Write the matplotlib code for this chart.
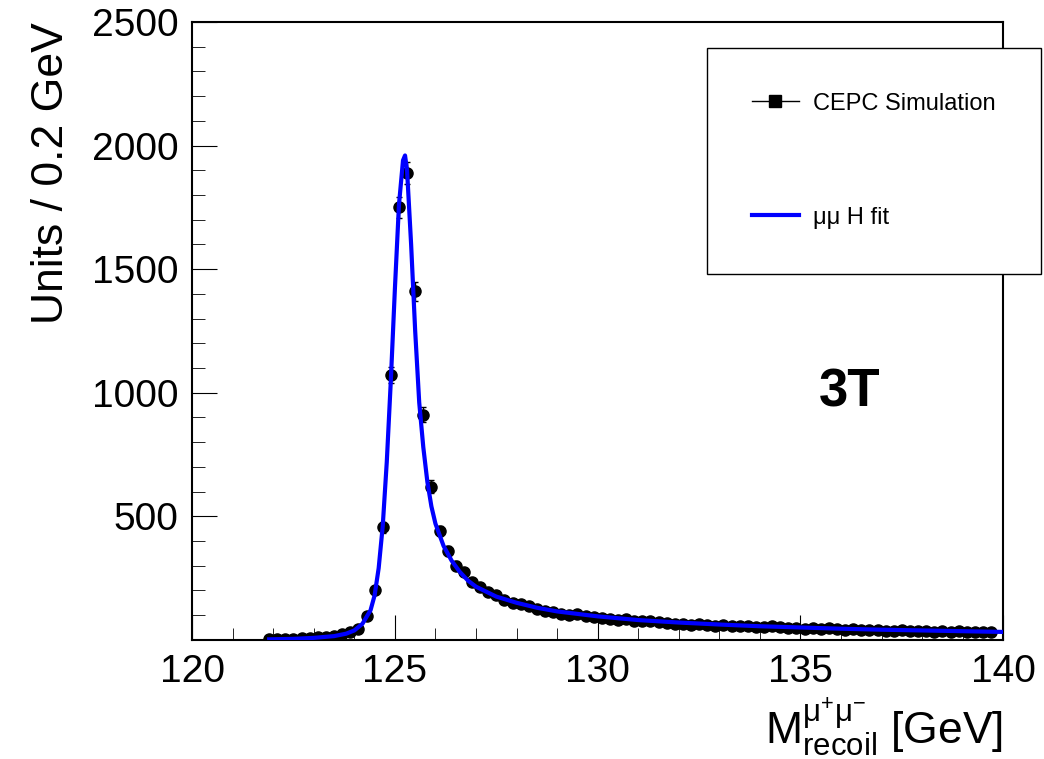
import numpy as np
import matplotlib.pyplot as plt
from matplotlib.ticker import MultipleLocator
from matplotlib.lines import Line2D

plt.rcParams['font.family'] = ['Liberation Sans', 'DejaVu Sans']
plt.rcParams['mathtext.fontset'] = 'custom'
plt.rcParams['mathtext.rm'] = 'Liberation Sans'
plt.rcParams['mathtext.it'] = 'Liberation Sans:italic'

# simulated histogram (bin centres, 0.2 GeV bins)
mass = np.round(np.arange(121.9, 140.0, 0.2), 1)
counts = [2, 3, 4, 5, 6, 8, 10, 13, 17, 22,
          30, 45, 95, 200, 455, 1070, 1750, 1890, 1410, 910,
          620, 440, 360, 300, 275, 235, 215, 195, 180, 160,
          150, 145, 135, 125, 118, 112, 105, 100, 105, 95,
          92, 90, 85, 82, 84, 78, 75, 76, 72, 70,
          66, 64, 62, 66, 60, 58, 62, 56, 55, 57,
          52, 50, 54, 50, 46, 48, 45, 47, 44, 46,
          42, 40, 43, 39, 38, 41, 37, 36, 38, 35,
          34, 36, 33, 35, 32, 34, 31, 33, 32, 31]
mass = mass[:len(counts)]

# fit curve
fit_x = [121.9, 122.5, 123.0, 123.5, 123.8, 124.0, 124.2, 124.4, 124.5, 124.6,
         124.7, 124.8, 124.9, 125.0, 125.1, 125.2, 125.25, 125.3, 125.4, 125.5,
         125.6, 125.7, 125.8, 125.9, 126.0, 126.2, 126.4, 126.6, 126.8, 127.0,
         127.5, 128.0, 128.5, 129.0, 130.0, 131.0, 132.0, 133.0, 134.0, 135.0,
         136.0, 137.0, 138.0, 139.0, 140.0]
fit_y = [2, 4, 8, 15, 25, 38, 65, 120, 180, 290,
         460, 720, 1050, 1420, 1760, 1940, 1960, 1900, 1600, 1250,
         960, 780, 640, 540, 470, 380, 320, 275, 240, 215,
         175, 150, 130, 115, 95, 80, 70, 62, 55, 50,
         45, 41, 38, 35, 32]

fig = plt.figure(figsize=(10.44, 7.59), dpi=100)
ax = fig.add_axes([0.184, 0.157, 0.777, 0.814])

ax.errorbar(mass, counts, yerr=np.sqrt(counts), fmt='o', color='black',
            markersize=8, elinewidth=1, capsize=2, zorder=2)
ax.plot(fit_x, fit_y, color='blue', lw=3, zorder=3)

ax.set_xlim(120, 140)
ax.set_ylim(0, 2500)
ax.set_yticks([500, 1000, 1500, 2000, 2500])
ax.set_xticks([120, 125, 130, 135, 140])
ax.xaxis.set_minor_locator(MultipleLocator(1))
ax.yaxis.set_minor_locator(MultipleLocator(100))
ax.tick_params(which='both', direction='in', top=False, right=False, labelsize=28, pad=10)
ax.tick_params(which='major', length=18)
ax.tick_params(which='minor', length=9)
for s in ax.spines.values():
    s.set_linewidth(1.5)

ax.set_ylabel('Units / 0.2 GeV', fontsize=32, loc='top', labelpad=14)
ax.set_xlabel(r'$\mathrm{M}^{\mathrm{μ^{+}μ^{-}}}_{\mathrm{recoil}}$ [GeV]', fontsize=32, loc='right')

ax.text(0.81, 0.40, '3T', transform=ax.transAxes, fontsize=38, fontweight='bold',
        ha='center', va='center')

handles = [Line2D([0], [0], color='black', marker='s', markersize=8, lw=1),
           Line2D([0], [0], color='blue', lw=3)]
leg = fig.legend(handles, ['CEPC Simulation', 'μμ H fit'], loc='upper left',
                 bbox_to_anchor=(0.677, 0.937), fontsize=17, fancybox=False,
                 edgecolor='black', framealpha=1, borderpad=1.9, labelspacing=3.9,
                 handlelength=2.0, handletextpad=0.6, borderaxespad=0)
leg.get_frame().set_linewidth(1)

fig.savefig('out.png', dpi=100)
